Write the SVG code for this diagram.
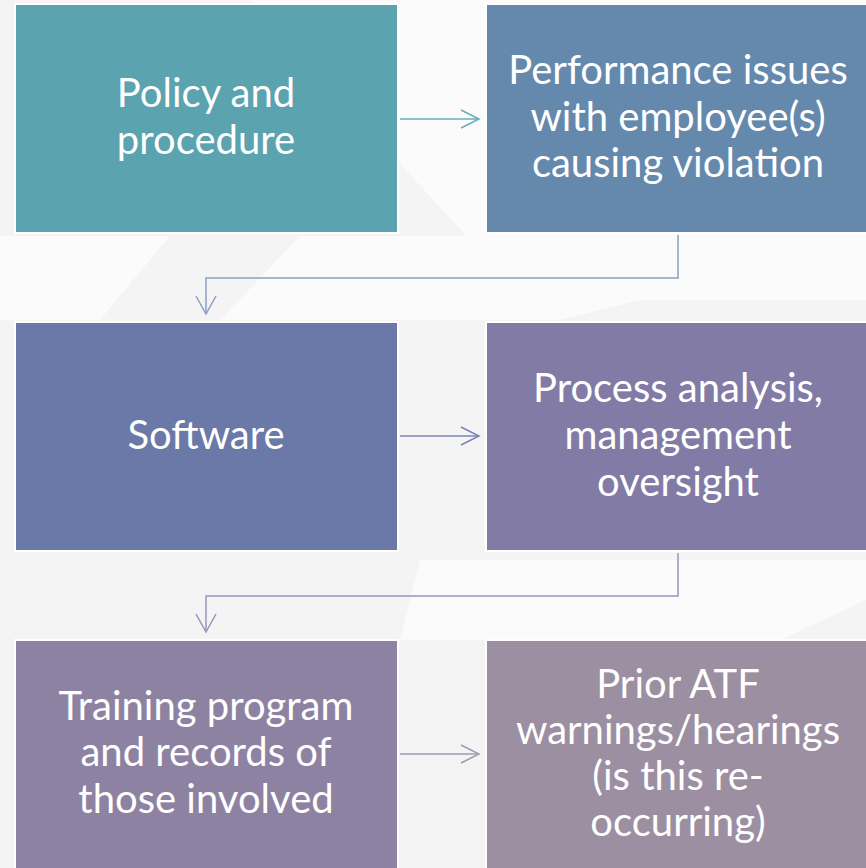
<svg xmlns="http://www.w3.org/2000/svg" width="866" height="868" viewBox="0 0 866 868">
<defs>
<style>
.box{stroke:#ffffff;stroke-width:2}
.t{font-family:Lato,"Open Sans","Liberation Sans",sans-serif;font-size:40px;fill:#ffffff;text-anchor:middle}
.c{fill:none;stroke-width:1.5}
</style>
</defs>
<rect width="866" height="868" fill="#f4f4f4"/>
<g id="background" fill="#fbfbfb">
<polygon points="250,0 866,0 866,240 470,240"/>
<polygon points="300,236 866,236 866,300 640,300 560,320 220,320"/>
<polygon points="420,560 866,560 866,600 780,640 400,640"/>
<polygon points="0,236 170,236 100,320 0,320"/>
</g>
<g id="connectors">
<g stroke="#6aaeb9" class="c"><line x1="400" y1="119" x2="479" y2="119"/><polyline points="461,110 479,119 461,128"/></g>
<g stroke="#8aa2c2" class="c"><polyline points="678,235 678,278 206,278 206,313"/><polyline points="196,296 206,314 216,296"/></g>
<g stroke="#7d84b4" class="c"><line x1="400" y1="436" x2="479" y2="436"/><polyline points="461,427 479,436 461,445"/></g>
<g stroke="#9c93bd" class="c"><polyline points="678,553 678,596 206,596 206,631"/><polyline points="196,614 206,632 216,614"/></g>
<g stroke="#a299b3" class="c"><line x1="400" y1="754" x2="479" y2="754"/><polyline points="461,745 479,754 461,763"/></g>
</g>
<g id="n1"><rect class="box" x="15" y="4" width="383" height="229" fill="#5ba3ae"/>
<text class="t" x="206" y="107">Policy and</text><text class="t" x="206" y="154">procedure</text></g>
<g id="n2"><rect class="box" x="486" y="4" width="382" height="229" fill="#6589ac"/>
<text class="t" x="678" y="84">Performance issues</text><text class="t" x="678" y="131">with employee(s)</text><text class="t" x="678" y="177">causing violation</text></g>
<g id="n3"><rect class="box" x="15" y="322" width="383" height="229" fill="#6a79a8"/>
<text class="t" x="206" y="449">Software</text></g>
<g id="n4"><rect class="box" x="486" y="322" width="382" height="229" fill="#827ba5"/>
<text class="t" x="678" y="402">Process analysis,</text><text class="t" x="678" y="449">management</text><text class="t" x="678" y="496">oversight</text></g>
<g id="n5"><rect class="box" x="15" y="640" width="383" height="232" fill="#8e82a3"/>
<text class="t" x="206" y="720">Training program</text><text class="t" x="206" y="766">and records of</text><text class="t" x="206" y="813">those involved</text></g>
<g id="n6"><rect class="box" x="486" y="640" width="382" height="232" fill="#9c8fa1"/>
<text class="t" x="678" y="698">Prior ATF</text><text class="t" x="678" y="744">warnings/hearings</text><text class="t" x="678" y="790">(is this re-</text><text class="t" x="678" y="836">occurring)</text></g>
</svg>
